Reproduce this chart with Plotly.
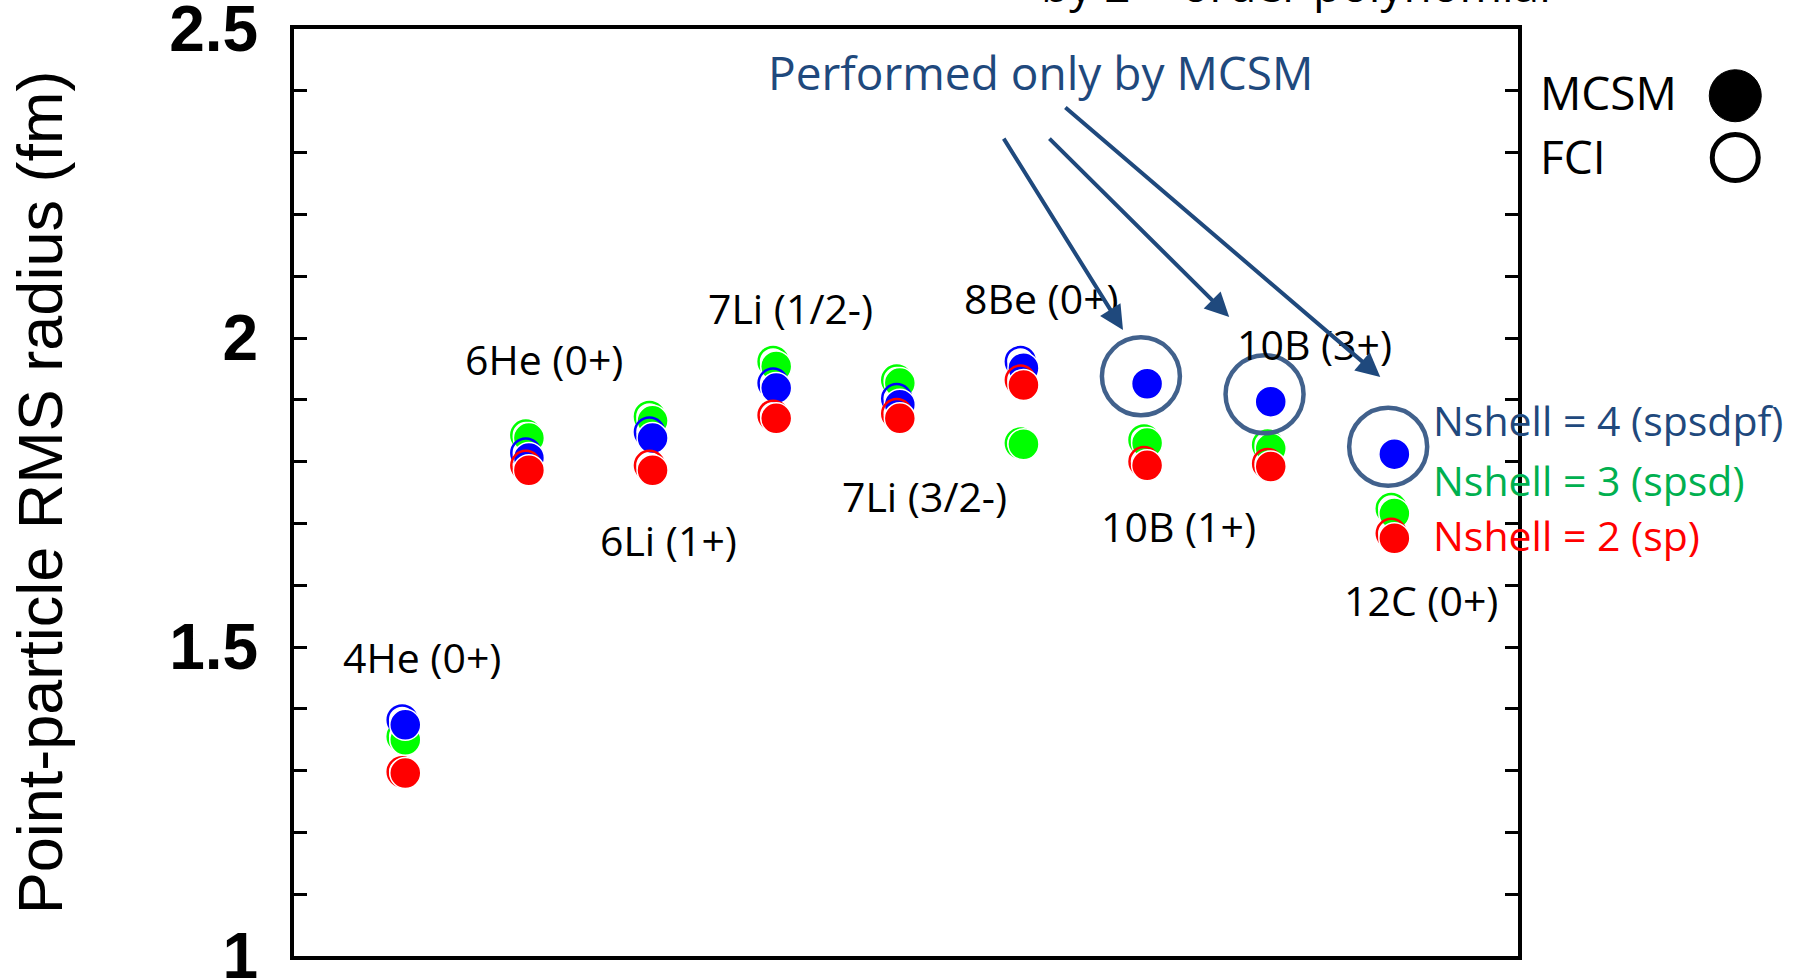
import plotly.graph_objects as go

# ---------------- data ----------------
nuclei = ["4He (0+)", "6He (0+)", "6Li (1+)", "7Li (1/2-)", "7Li (3/2-)",
          "8Be (0+)", "10B (1+)", "10B (3+)", "12C (0+)"]
xpos = [1, 2, 3, 4, 5, 6, 7, 8, 9]

# Nshell = 4 (spsdpf)
mcsm_n4 = [1.374, 1.806, 1.838, 1.919, 1.892, 1.951, 1.926, 1.897, 1.812]
fci_n4 = [1.382, 1.814, 1.848, 1.927, 1.902, 1.962, None, None, None]
# Nshell = 3 (spsd)
mcsm_n3 = [1.350, 1.838, 1.866, 1.954, 1.927, 1.828, 1.830, 1.821, 1.716]
fci_n3 = [1.355, 1.843, 1.873, 1.962, 1.932, 1.830, 1.835, 1.827, 1.724]
# Nshell = 2 (sp)
mcsm_n2 = [1.296, 1.786, 1.786, 1.870, 1.870, 1.924, 1.794, 1.792, 1.676]
fci_n2 = [1.298, 1.794, 1.794, 1.875, 1.878, 1.932, 1.800, 1.797, 1.684]

mcsm_only = [False, False, False, False, False, False, True, True, True]

# label anchor positions (data units, left-anchored)
label_x = [0.48, 1.47, 2.56, 3.43, 4.52, 5.50, 6.61, 7.71, 8.58]
label_y = [1.484, 1.966, 1.673, 2.049, 1.744, 2.065, 1.696, 1.990, 1.576]

series = [
    ("Nshell = 3 (spsd)", "#00FF00", mcsm_n3, fci_n3),
    ("Nshell = 4 (spsdpf)", "#0000FF", mcsm_n4, fci_n4),
    ("Nshell = 2 (sp)", "#FF0000", mcsm_n2, fci_n2),
]
series_text = [("Nshell = 4 (spsdpf)", "#1F497D", 1.867),
               ("Nshell = 3 (spsd)", "#00B050", 1.770),
               ("Nshell = 2 (sp)", "#FF0000", 1.681)]

FONT = "Open Sans"
DARK = "#1F497D"
RING = "#41618C"

fig = go.Figure()

fci_dx = -0.025
for name, col, mc, fc in series:
    fig.add_trace(go.Scatter(
        x=[x + fci_dx for x in xpos], y=fc, mode="markers", name=name + " FCI",
        showlegend=False, cliponaxis=False,
        marker=dict(symbol="circle-open", size=29, color=col, line=dict(width=2.5, color=col))))
    fig.add_trace(go.Scatter(
        x=xpos, y=mc, mode="markers", name=name + " MCSM",
        showlegend=False, cliponaxis=False,
        marker=dict(symbol="circle", size=31, color=col, line=dict(width=1.5, color="white"))))

# highlight rings around MCSM-only results
hx = [x - 0.05 for x, m in zip(xpos, mcsm_only) if m]
hy = [y + 0.012 for y, m in zip(mcsm_n4, mcsm_only) if m]
fig.add_trace(go.Scatter(x=hx, y=hy, mode="markers", showlegend=False, cliponaxis=False,
                         name="MCSM only",
                         marker=dict(symbol="circle-open", size=78, color=RING,
                                     line=dict(width=4.5, color=RING))))

annotations = []
for t, lx, ly in zip(nuclei, label_x, label_y):
    annotations.append(dict(x=lx, y=ly, xref="x", yref="y", text=t, showarrow=False,
                            xanchor="left", yanchor="middle",
                            font=dict(family=FONT, size=41, color="black")))

for t, c, y in series_text:
    annotations.append(dict(x=9.30, y=y, xref="x", yref="y", text=t, showarrow=False,
                            xanchor="left", yanchor="middle",
                            font=dict(family=FONT, size=41, color=c)))

annotations.append(dict(x=3.92, y=2.430, xref="x", yref="y", text="Performed only by MCSM",
                        showarrow=False, xanchor="left", yanchor="middle",
                        font=dict(family=FONT, size=46, color=DARK)))

arrows = [((5.833, 2.325), (6.805, 2.013)),
          ((6.198, 2.325), (7.664, 2.034)),
          ((6.327, 2.375), (8.886, 1.937))]
for (tx, ty), (hx_, hy_) in arrows:
    annotations.append(dict(x=hx_, y=hy_, ax=tx, ay=ty, xref="x", yref="y",
                            axref="x", ayref="y", text="", showarrow=True,
                            arrowhead=2, arrowsize=1.2, arrowwidth=4, arrowcolor=DARK))

# legend-like annotations
annotations.append(dict(x=1.0164, y=2.398, xref="paper", yref="y", text="MCSM",
                        showarrow=False, xanchor="left", yanchor="middle",
                        font=dict(family=FONT, size=46, color="black")))
annotations.append(dict(x=1.0164, y=2.294, xref="paper", yref="y", text="FCI",
                        showarrow=False, xanchor="left", yanchor="middle",
                        font=dict(family=FONT, size=46, color="black")))

# clipped text at top
annotations.append(dict(x=(1039 - 294) / 1224, y=1, xref="paper", yref="paper",
                        text="by 2<sup>nd</sup> order polynomial", showarrow=False,
                        xanchor="left", yanchor="bottom", yshift=12,
                        font=dict(family=FONT, size=46, color="black")))

shapes = [
    dict(type="circle", xref="paper", yref="y", xsizemode="pixel", ysizemode="pixel",
         xanchor=1.1775, yanchor=2.392, x0=-26, x1=26, y0=-26, y1=26,
         fillcolor="black", line=dict(color="black", width=1)),
    dict(type="circle", xref="paper", yref="y", xsizemode="pixel", ysizemode="pixel",
         xanchor=1.1775, yanchor=2.292, x0=-23, x1=23, y0=-23, y1=23,
         fillcolor="rgba(0,0,0,0)", line=dict(color="black", width=5)),
]

fig.update_layout(
    width=1800, height=980,
    margin=dict(l=294, r=282, t=29, b=24, autoexpand=False),
    plot_bgcolor="white", paper_bgcolor="white",
    annotations=annotations, shapes=shapes,
    showlegend=False,
    xaxis=dict(range=[0.1, 10], showticklabels=False, ticks="", showgrid=False,
               zeroline=False, showline=True, linewidth=4, linecolor="black", mirror=True,
               automargin=False),
    yaxis=dict(range=[1, 2.5], tickmode="linear", tick0=1, dtick=0.5,
               ticks="inside", ticklen=13, tickwidth=3, tickcolor="black",
               minor=dict(tickmode="linear", tick0=1, dtick=0.1, ticks="inside",
                          ticklen=13, tickwidth=3, tickcolor="black", showgrid=False),
               showgrid=False, zeroline=False, showline=True, linewidth=4,
               linecolor="black", mirror="ticks", automargin=False,
               ticklabelstandoff=19, ticklabeloverflow="allow",
               tickfont=dict(family="Liberation Sans", size=64, color="black", weight="bold"),
               title=dict(text="Point-particle RMS radius (fm)", standoff=87,
                          font=dict(family="Liberation Sans", size=63, color="black"))),
)

fig.write_html("out.html")
